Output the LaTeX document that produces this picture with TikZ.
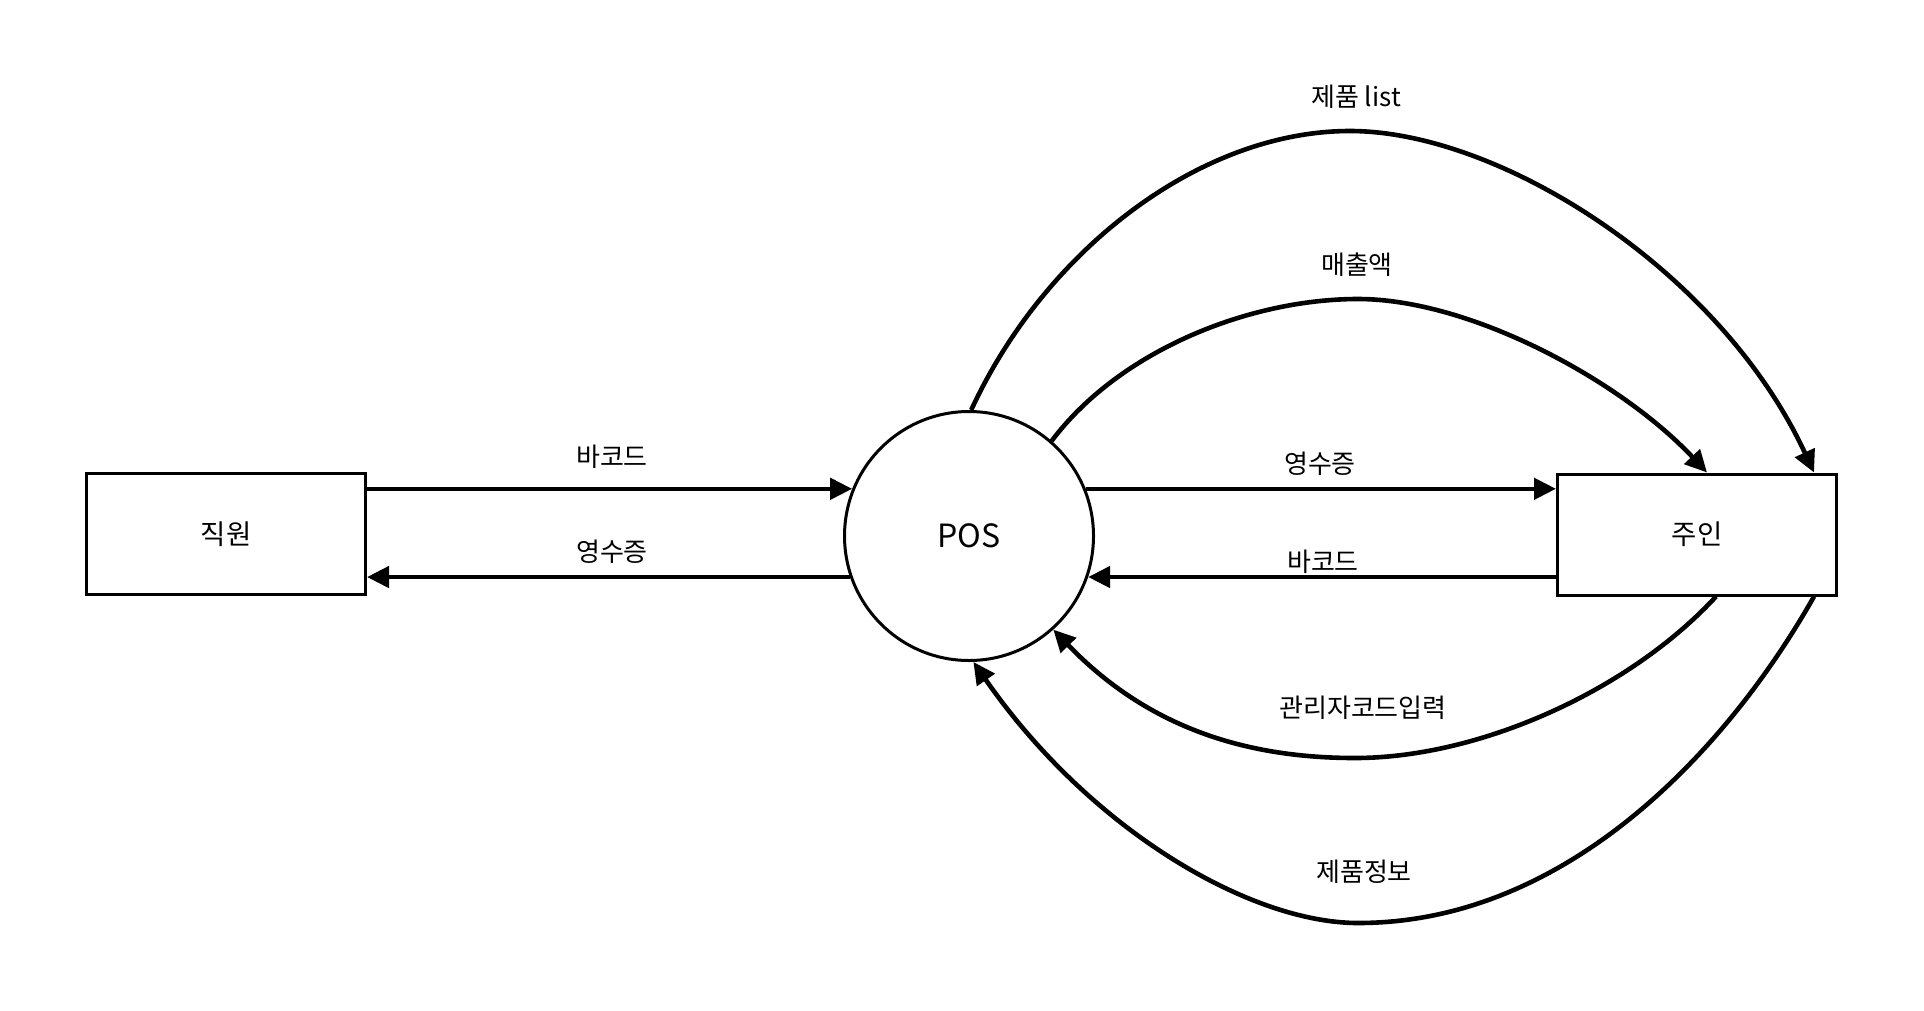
\documentclass[tikz,border=0pt]{standalone}
\usepackage{fontspec}
\setmainfont{Noto Sans CJK KR}
\usetikzlibrary{arrows.meta}
\begin{document}
\begin{tikzpicture}[x=1pt,y=-1pt,
  every node/.style={font=\fontsize{26pt}{30pt}\selectfont},
  entity/.style={draw, line width=3pt, minimum width=279pt, minimum height=121pt, inner sep=0pt, font=\fontsize{27.5pt}{32pt}\selectfont},
  process/.style={draw, circle, line width=3pt, minimum size=249pt, inner sep=0pt, font=\fontsize{32pt}{36pt}\selectfont},
  flow/.style={line width=4.6pt, -{Triangle[length=22pt,width=21pt]}},
  lbl/.style={inner sep=0pt}]
\fill[white] (0,0) rectangle (1924,1010);
\useasboundingbox (0,0) rectangle (1924,1010);

\node[entity] (staff) at (226,534) {직원};
\node[process] (pos) at (969,536) {POS};
\node[entity] (owner) at (1697,534.5) {주인};

% straight flows
\draw[flow] (pos.158 -| staff.east) -- (pos.158);
\draw[flow] (pos.199) -- (pos.199 -| staff.east);
\draw[flow] (pos.22) -- (pos.22 -| owner.west);
\draw[flow] (pos.-19 -| owner.west) -- (pos.-19);

% curved flows
\draw[flow] (pos.89) .. controls (1045,250) and (1200,131) .. (1350,131)
  .. controls (1500,131) and (1720,270) .. ([xshift=-24pt]owner.north east);
\draw[flow] (pos.49) .. controls (1120,350) and (1250,299) .. (1358,299)
  .. controls (1470,299) and (1620,380) .. ([xshift=10pt]owner.north);
\draw[flow] ([xshift=19pt]owner.south) .. controls (1630,690) and (1480,758) .. (1355,758)
  .. controls (1250,758) and (1150,730) .. (pos.-48);
\draw[flow] ([xshift=-24pt]owner.south east) .. controls (1730,745) and (1570,923) .. (1358,923)
  .. controls (1250,923) and (1090,830) .. (pos.-88);

% labels
\node[lbl] (l1) at (1356,97) {제품 list};
\node[lbl] (l2) at (1357,265) {매출액};
\node[lbl] (l3) at (612,457) {바코드};
\node[lbl] (l4) at (612,552) {영수증};
\node[lbl] (l5) at (1320,464) {영수증};
\node[lbl] (l6) at (1323,562) {바코드};
\node[lbl] (l7) at (1363,708) {관리자코드입력};
\node[lbl] (l8) at (1364,872) {제품정보};
\end{tikzpicture}
\end{document}
